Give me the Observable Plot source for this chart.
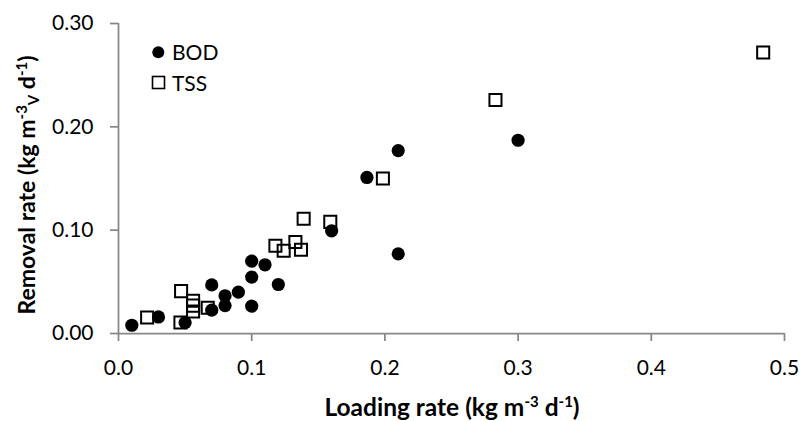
<!DOCTYPE html>
<html><head><meta charset="utf-8">
<script src="https://cdn.jsdelivr.net/npm/d3@7"></script>
<script src="https://cdn.jsdelivr.net/npm/@observablehq/plot@0.6"></script>
<style>body{margin:0;background:#fff} svg{display:block}</style>
</head><body><div id="chart"></div>
<script>
// BOD series
const bodLoading = [0.010, 0.030, 0.050, 0.070, 0.070, 0.080, 0.080, 0.090, 0.100, 0.100, 0.100, 0.110, 0.120, 0.160, 0.1865, 0.210, 0.210, 0.300];
const bodRemoval = [0.008, 0.016, 0.0106, 0.047, 0.0226, 0.0365, 0.027, 0.040, 0.070, 0.0546, 0.0265, 0.0665, 0.0474, 0.0994, 0.151, 0.177, 0.077, 0.187];
// TSS series
const tssLoading = [0.0215, 0.0465, 0.047, 0.056, 0.056, 0.056, 0.067, 0.1178, 0.124, 0.1328, 0.137, 0.139, 0.159, 0.1985, 0.283, 0.484];
const tssRemoval = [0.0155, 0.0106, 0.041, 0.0317, 0.027, 0.0213, 0.025, 0.085, 0.080, 0.0885, 0.081, 0.111, 0.108, 0.150, 0.226, 0.272];
// ticks
const xTicks = [0, 0.1, 0.2, 0.3, 0.4, 0.5];
const yTicks = [0, 0.1, 0.2, 0.3];
const seriesNames = ["BOD", "TSS"];

const bod = bodLoading.map((x, i) => ({x, y: bodRemoval[i]}));
const tss = tssLoading.map((x, i) => ({x, y: tssRemoval[i]}));

const axisColor = "#878787";
const plot = Plot.plot({
  width: 803, height: 421,
  marginLeft: 118, marginRight: 19, marginTop: 23, marginBottom: 88,
  style: {fontFamily: "Lato", fontSize: "21px", color: "#000", background: "#fff"},
  x: {domain: [0, 0.5], label: null},
  y: {domain: [0, 0.3], label: null},
  marks: [
    Plot.axisX({ticks: xTicks, tickFormat: d3.format(".1f"), tickSize: 8, tickPadding: 19, stroke: axisColor, strokeWidth: 1.75, label: null}),
    Plot.axisY({ticks: yTicks, tickFormat: d3.format(".2f"), tickSize: 8, tickPadding: 17, stroke: axisColor, strokeWidth: 1.75, label: null}),
    Plot.ruleX([0], {stroke: axisColor, strokeWidth: 1.75}),
    Plot.ruleY([0], {stroke: axisColor, strokeWidth: 1.75}),
    Plot.dot(tss, {x: "x", y: "y", symbol: "square", r: 6.8, stroke: "#000", strokeWidth: 2, fill: "none"}),
    Plot.dot(bod, {x: "x", y: "y", symbol: "circle", r: 6.6, fill: "#000", stroke: "none"})
  ]
});
document.getElementById("chart").appendChild(plot);

const svg = d3.select(plot);
// X title
const xt = svg.append("text").attr("x", 452).attr("y", 416).attr("text-anchor", "middle")
  .attr("font-family", "Lato").attr("font-weight", "bold").attr("font-size", 24.5).attr("fill", "#000");
xt.append("tspan").text("Loading rate (kg m");
xt.append("tspan").attr("dy", -9).attr("font-size", 15).text("-3");
xt.append("tspan").attr("dy", 9).text(" d");
xt.append("tspan").attr("dy", -9).attr("font-size", 15).text("-1");
xt.append("tspan").attr("dy", 9).text(")");

// Y title
const yt = svg.append("text").attr("transform", "translate(35,185) rotate(-90)").attr("text-anchor", "middle")
  .attr("font-family", "Lato").attr("font-weight", "bold").attr("font-size", 23).attr("fill", "#000");
yt.append("tspan").text("Removal rate (kg m");
yt.append("tspan").attr("dy", -8).attr("font-size", 15).text("-3");
yt.append("tspan").attr("dy", 12).attr("font-size", 15).text("V");
yt.append("tspan").attr("dy", -4).text(" d");
yt.append("tspan").attr("dy", -8).attr("font-size", 15).text("-1");
yt.append("tspan").attr("dy", 8).text(")");

// Legend
const lg = svg.append("g").attr("font-family", "Lato").attr("font-size", 21).attr("fill", "#000").attr("text-anchor", "start");
lg.append("circle").attr("cx", 158.3).attr("cy", 52.3).attr("r", 6).attr("fill", "#000");
lg.append("text").attr("x", 172).attr("y", 60).attr("text-anchor", "start").text(seriesNames[0]);
lg.append("rect").attr("x", 152.5).attr("y", 76.5).attr("width", 12).attr("height", 12)
  .attr("fill", "none").attr("stroke", "#000").attr("stroke-width", 1.6);
lg.append("text").attr("x", 172).attr("y", 90.5).attr("text-anchor", "start").text(seriesNames[1]);
</script>
</body></html>
